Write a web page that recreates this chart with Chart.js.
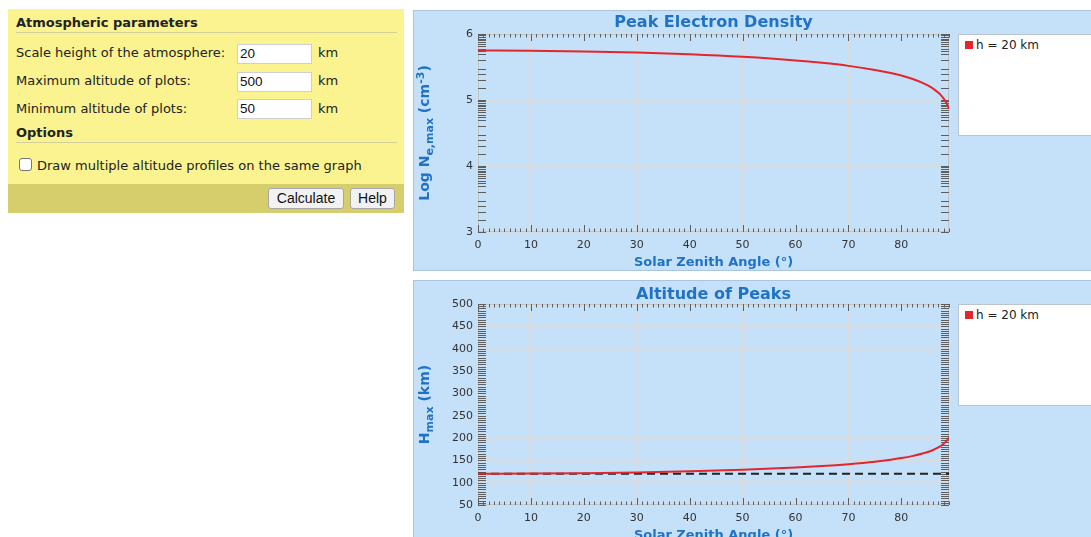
<!DOCTYPE html>
<html><head><meta charset="utf-8">
<script src="https://cdn.jsdelivr.net/npm/chart.js@4.4.1/dist/chart.umd.min.js"></script>
<style>
html,body{margin:0;padding:0;background:#fff;width:1091px;height:537px;overflow:hidden;font-family:"DejaVu Sans",Verdana,sans-serif;color:#222;}
#form{position:absolute;left:8px;top:9px;width:396px;height:204px;background:#faf38f;}
.hdr{position:absolute;left:8px;font-weight:bold;font-size:13px;line-height:16px;white-space:nowrap;}
.rule{position:absolute;left:8px;width:381px;height:1px;background:#d5cf9c;}
.lbl{position:absolute;font-size:13px;line-height:16px;white-space:nowrap;}
.inp{position:absolute;left:229px;width:75px;height:20px;box-sizing:border-box;background:#fff;border:1px solid #cfcfcf;font-family:"Liberation Sans",Arial,sans-serif;font-size:13.5px;line-height:18px;padding-left:2px;color:#111;}
#bar{position:absolute;left:0;top:175px;width:396px;height:29px;background:#d6cd6d;}
.btn{position:absolute;top:4px;height:21px;box-sizing:border-box;background:#f2f2f2;border:1px solid #a6a6a6;border-radius:3px;font-family:"Liberation Sans",Arial,sans-serif;font-size:14px;line-height:19px;text-align:center;color:#111;}
#chk{position:absolute;left:11px;top:149px;width:13px;height:13px;box-sizing:border-box;border:1px solid #767676;border-radius:3px;background:#fff;}
.panel{position:absolute;left:413px;width:700px;background:#c5e1fa;border:1px solid #a9c5df;box-sizing:border-box;}
canvas{position:absolute;left:413px;}
.legend{position:absolute;left:958px;width:150px;height:102px;box-sizing:border-box;background:#fff;border:1px solid #b9c4cf;font-size:12px;line-height:14px;}
.legend .sw{position:absolute;left:6px;top:6px;width:8px;height:8px;}
.legend .tx{position:absolute;left:17px;top:3px;white-space:nowrap;color:#222;}
</style>
</head><body>
<div id="form">
  <div class="hdr" style="top:6px">Atmospheric parameters</div>
  <div class="rule" style="top:23px"></div>
  <div class="lbl" style="left:8px;top:36px">Scale height of the atmosphere:</div>
  <div class="inp" style="top:35px">20</div>
  <div class="lbl" style="left:310px;top:36px">km</div>
  <div class="lbl" style="left:8px;top:64px">Maximum altitude of plots:</div>
  <div class="inp" style="top:63px">500</div>
  <div class="lbl" style="left:310px;top:64px">km</div>
  <div class="lbl" style="left:8px;top:92px">Minimum altitude of plots:</div>
  <div class="inp" style="top:90px">50</div>
  <div class="lbl" style="left:310px;top:92px">km</div>
  <div class="hdr" style="top:116px">Options</div>
  <div class="rule" style="top:133px"></div>
  <div id="chk"></div>
  <div class="lbl" style="left:29px;top:149px">Draw multiple altitude profiles on the same graph</div>
  <div id="bar">
    <div class="btn" style="left:260px;width:76px">Calculate</div>
    <div class="btn" style="left:342px;width:45px">Help</div>
  </div>
</div>

<div class="panel" style="top:10px;height:261px"></div>
<div class="panel" style="top:280px;height:300px"></div>
<canvas id="c1" width="545" height="260" style="top:10px"></canvas>
<canvas id="c2" width="545" height="263" style="top:280px"></canvas>
<div class="legend" id="lg1" style="top:34px"></div>
<div class="legend" id="lg2" style="top:304px"></div>

<script>
// ---- data ----
const seriesLabel = 'h = 20 km';
const szaDeg   = [0, 10, 20, 30, 40, 50, 60, 65, 70, 75, 78, 80, 82, 84, 85, 86, 87, 87.5, 88, 88.5, 89];
const logNeMax = [5.75, 5.747, 5.736, 5.719, 5.692, 5.654, 5.600, 5.563, 5.517, 5.456, 5.409, 5.370, 5.322, 5.260, 5.220, 5.172, 5.109, 5.070, 5.021, 4.959, 4.871];
const hMaxKm   = [120, 120.3, 121.2, 122.9, 125.3, 128.8, 133.9, 137.2, 141.5, 147.0, 151.4, 155.0, 159.4, 165.2, 168.8, 173.2, 179.0, 182.7, 187.1, 192.9, 201.0];
const refLineX = [0, 89];
const refLineY = [120, 120];
const xTickVals   = [0, 10, 20, 30, 40, 50, 60, 70, 80];
const yTickVals1  = [3, 4, 5, 6];
const yTickVals2  = [50, 100, 150, 200, 250, 300, 350, 400, 450, 500];
const titles = ['Peak Electron Density', 'Altitude of Peaks'];
const xTitle = 'Solar Zenith Angle (°)';

const BLUE = '#1f72c6';
const RED = '#e3262b';
const FONT = '"DejaVu Sans", Verdana, sans-serif';

const pts = (xs, ys) => xs.map((x, i) => ({x, y: ys[i]}));

const edgeTicks = {
  id: 'edgeTicks',
  beforeDatasetsDraw(chart, args, o) {
    const {ctx, chartArea: a} = chart;
    const x = chart.scales.x, y = chart.scales.y;
    ctx.save();
    ctx.strokeStyle = '#c4c4c4'; ctx.lineWidth = 1;
    ctx.strokeRect(Math.round(a.left) + 0.5, Math.round(a.top) + 0.5, Math.round(a.right - a.left) - 1, Math.round(a.bottom - a.top) - 1);
    ctx.strokeStyle = '#5e5e5e';
    ctx.beginPath();
    for (let v = x.min; v <= x.max + 1e-9; v += 1) {
      const px = Math.round(x.getPixelForValue(v)) + 0.5;
      const L = (v % 10 === 0) ? 7 : 3.5;
      ctx.moveTo(px, a.top); ctx.lineTo(px, a.top + L);
      ctx.moveTo(px, a.bottom); ctx.lineTo(px, a.bottom - L);
    }
    const yv = [];
    if (o.log) {
      const ks = [1, 1.5, 2, 2.5, 3, 4, 5, 5.5, 6, 6.5, 7, 7.5, 8, 8.5, 9, 9.5];
      for (let n = Math.floor(y.min); n < y.max; n++) ks.forEach(k => yv.push(n + Math.log10(k)));
      yv.push(y.max);
    } else {
      for (let v = y.min; v <= y.max + 1e-9; v += o.yStep) yv.push(v);
    }
    yv.forEach(v => {
      const py = Math.round(y.getPixelForValue(v)) + 0.5;
      ctx.moveTo(a.left, py); ctx.lineTo(a.left + 8, py);
      ctx.moveTo(a.right, py); ctx.lineTo(a.right - 8, py);
    });
    ctx.stroke();
    ctx.restore();
  }
};

const richYTitle = {
  id: 'richYTitle',
  afterDraw(chart, args, o) {
    const ctx = chart.ctx, a = chart.chartArea;
    ctx.save();
    ctx.translate(o.x, (a.top + a.bottom) / 2);
    ctx.rotate(-Math.PI / 2);
    ctx.fillStyle = BLUE;
    ctx.textBaseline = 'alphabetic';
    const f = p => 'bold ' + ((p.sub || p.sup) ? o.small : o.size) + 'px ' + FONT;
    let total = 0;
    o.parts.forEach(p => { ctx.font = f(p); total += ctx.measureText(p.t).width; });
    let cx = -total / 2;
    o.parts.forEach(p => {
      ctx.font = f(p);
      const dy = p.sub ? 3.5 : (p.sup ? -5.5 : 0);
      ctx.fillText(p.t, cx, o.base + dy);
      cx += ctx.measureText(p.t).width;
    });
    ctx.restore();
  }
};

function makeChart(id, datasets, yMin, yMax, yTicks, title, titlePad, yTitleParts, tickOpts) {
  return new Chart(document.getElementById(id), {
    type: 'line',
    data: {datasets},
    options: {
      responsive: false,
      animation: false,
      devicePixelRatio: 1,
      layout: {padding: {left: 0, right: 9, top: 0, bottom: 0}},
      elements: {point: {radius: 0}},
      plugins: {
        legend: {display: false},
        tooltip: {enabled: false},
        title: {display: true, text: title, fullSize: false, color: BLUE,
          font: {family: FONT, size: 16, weight: 'bold', lineHeight: 1.2}, padding: titlePad},
        edgeTicks: tickOpts,
        richYTitle: {x: 11, base: 5, size: 14, small: 11, parts: yTitleParts}
      },
      scales: {
        x: {
          type: 'linear', min: 0, max: 89,
          afterBuildTicks: s => { s.ticks = xTickVals.map(v => ({value: v})); },
          afterFit: s => { s.height = 38; },
          grid: {color: '#dadada', drawTicks: false},
          border: {display: false},
          ticks: {padding: 6.5, color: '#333', font: {family: FONT, size: 11}},
          title: {display: true, text: xTitle, color: BLUE, padding: {top: 2.2, bottom: 0},
            font: {family: FONT, size: 13, weight: 'bold', lineHeight: 1.2}}
        },
        y: {
          type: 'linear', min: yMin, max: yMax,
          afterBuildTicks: s => { s.ticks = yTicks.map(v => ({value: v})); },
          afterFit: s => { s.width = 65; },
          grid: {color: '#dadada', drawTicks: false},
          border: {display: false},
          ticks: {padding: 5, color: '#333', font: {family: FONT, size: 11}}
        }
      }
    },
    plugins: [edgeTicks, richYTitle]
  });
}

const c1 = makeChart('c1', [
  {label: seriesLabel, data: pts(szaDeg, logNeMax), borderColor: RED, backgroundColor: RED, borderWidth: 2, cubicInterpolationMode: 'monotone'}
], 3, 6, yTickVals1, titles[0], {top: 3.4, bottom: 1.4},
  [{t: 'Log N'}, {t: 'e,max', sub: true}, {t: ' (cm'}, {t: '-3', sup: true}, {t: ')'}],
  {log: true});

const c2 = makeChart('c2', [
  {label: seriesLabel, data: pts(szaDeg, hMaxKm), borderColor: RED, backgroundColor: RED, borderWidth: 2, cubicInterpolationMode: 'monotone'},
  {label: 'reference', data: pts(refLineX, refLineY), borderColor: '#222', borderWidth: 2, borderDash: [8, 5]}
], 50, 500, yTickVals2, titles[1], {top: 4.8, bottom: 0},
  [{t: 'H'}, {t: 'max', sub: true}, {t: ' (km)'}],
  {log: false, yStep: 5});

function legend(chart, el) {
  const ds = chart.data.datasets[0];
  el.innerHTML = '<div class="sw" style="background:' + ds.borderColor + '"></div><div class="tx">' + ds.label + '</div>';
}
legend(c1, document.getElementById('lg1'));
legend(c2, document.getElementById('lg2'));
</script>
</body></html>
